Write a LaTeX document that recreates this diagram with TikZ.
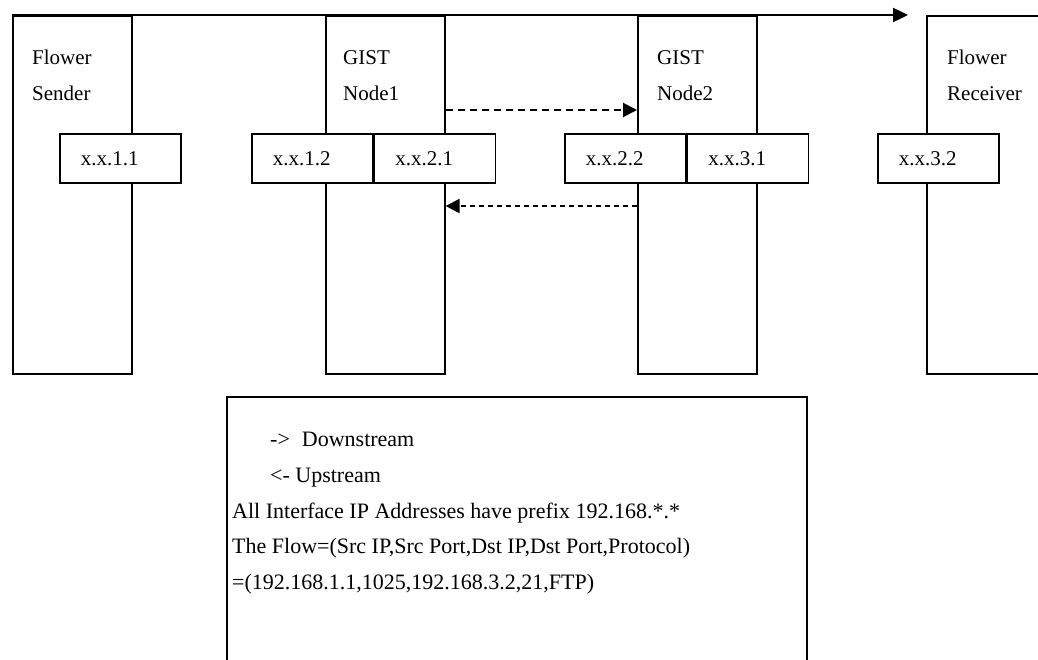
\documentclass[tikz,border=0pt]{standalone}
\usepackage{fontspec}
\setmainfont{Liberation Serif}
\usetikzlibrary{arrows.meta,positioning}

\tikzset{
  hostcol/.style={draw, line width=1.6pt, minimum width=119pt, minimum height=358pt, anchor=north west, inner sep=0pt},
  ifbox/.style={draw, fill=white, line width=1.6pt, minimum height=49pt, anchor=north west, inner xsep=21pt, inner ysep=0pt,
    text width=79pt, align=left, font=\fontsize{21}{25}\selectfont},
  hostlbl/.style={anchor=north west, align=left, inner sep=0pt, font=\fontsize{21}{36}\selectfont},
  flowline/.style={line width=2.4pt, -{Triangle[length=15pt,width=14pt]}},
  streamarrow/.style={line width=2pt, dash pattern=on 7pt off 5pt, -{Triangle[length=14pt,width=14pt]}}
}

\begin{document}
\begin{tikzpicture}[x=1pt, y=-1pt]
  \useasboundingbox (0,0) rectangle (1038,659);
  \clip (0,0) rectangle (1038,659);

  % Four hosts along the path
  \node[hostcol] (sender) at (12,15) {};
  \node[hostcol] (node1) at (325,15) {};
  \node[hostcol] (node2) at (637,15) {};
  \node[hostcol, minimum width=150pt] (receiver) at (926,15) {};

  \node[hostlbl] (senderlbl) at ([shift={(20,35)}]sender.north west) {Flower\\Sender};
  \node[hostlbl] (node1lbl) at ([shift={(18,35)}]node1.north west) {GIST\\Node1};
  \node[hostlbl] (node2lbl) at ([shift={(20,35)}]node2.north west) {GIST\\Node2};
  \node[hostlbl] (receiverlbl) at ([shift={(21,35)}]receiver.north west) {Flower\\Receiver};

  % Interfaces
  \node[ifbox] (if11) at (59,133) {x.x.1.1};
  \node[ifbox] (if12) at (251,133) {x.x.1.2};
  \node[ifbox] (if21) at (if12.north east) {x.x.2.1};
  \node[ifbox] (if22) at (564,133) {x.x.2.2};
  \node[ifbox] (if31) at (if22.north east) {x.x.3.1};
  \node[ifbox] (if32) at (877,133) {x.x.3.2};

  % Flow direction on top
  \coordinate (flowend) at (908,15);
  \draw[flowline] (sender.north west) -- (flowend);

  % Downstream and upstream signalling
  \draw[streamarrow] ([yshift=-95pt]node1.north east) -- ([yshift=-95pt]node2.north west);
  \draw[streamarrow, dash pattern=on 5pt off 4pt] ([yshift=-191pt]node2.north west) -- ([yshift=-191pt]node1.north east);

  % Legend
  \node[draw, line width=1.6pt, minimum width=580pt, minimum height=290pt, anchor=north west, inner sep=0pt] (legend) at (226,396) {};
  \node[anchor=north west, align=left, inner sep=0pt, font=\fontsize{22}{35.7}\selectfont] (legendtxt)
    at ([shift={(6,36)}]legend.north west)
    {\hspace*{38pt}->\hspace{12pt}Downstream\\
     \hspace*{38pt}<- Upstream\\
     All Interface IP Addresses have prefix 192.168.*.*\\
     The Flow=(Src IP,Src Port,Dst IP,Dst Port,Protocol)\\
     =(192.168.1.1,1025,192.168.3.2,21,FTP)};
\end{tikzpicture}
\end{document}
